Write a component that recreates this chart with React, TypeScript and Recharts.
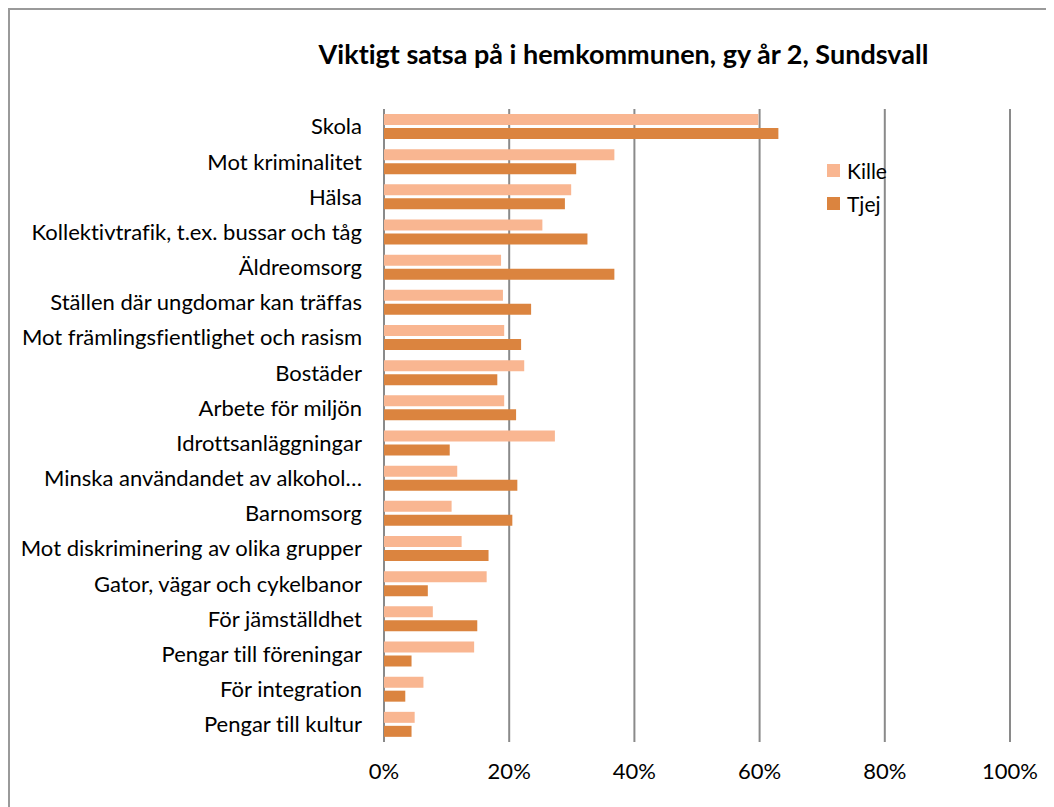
import React from 'react';
import { BarChart, Bar, XAxis, YAxis, CartesianGrid, Legend } from 'recharts';

const categories = [
  'Skola',
  'Mot kriminalitet',
  'Hälsa',
  'Kollektivtrafik, t.ex. bussar och tåg',
  'Äldreomsorg',
  'Ställen där ungdomar kan träffas',
  'Mot främlingsfientlighet och rasism',
  'Bostäder',
  'Arbete för miljön',
  'Idrottsanläggningar',
  'Minska användandet av alkohol…',
  'Barnomsorg',
  'Mot diskriminering av olika grupper',
  'Gator, vägar och cykelbanor',
  'För jämställdhet',
  'Pengar till föreningar',
  'För integration',
  'Pengar till kultur',
];

const kille = [59.8, 36.8, 29.9, 25.3, 18.7, 19.0, 19.2, 22.4, 19.2, 27.3, 11.7, 10.8, 12.4, 16.4, 7.8, 14.4, 6.3, 4.9];
const tjej = [63.0, 30.7, 28.9, 32.5, 36.8, 23.5, 21.9, 18.1, 21.1, 10.5, 21.3, 20.5, 16.7, 7.0, 14.9, 4.4, 3.4, 4.4];

const xTicks = [0, 0.2, 0.4, 0.6, 0.8, 1];

const title = 'Viktigt satsa på i hemkommunen, gy år 2, Sundsvall';

const data = categories.map((c, i) => ({ name: c, Kille: kille[i] / 100, Tjej: tjej[i] / 100 }));

const FONT = 'Lato, "Liberation Sans", Arial, sans-serif';
const KILLE = '#F9B691';
const TJEJ = '#DB843F';
const NOLIG: React.CSSProperties = { fontVariantLigatures: 'none', fontFeatureSettings: '"liga" 0, "clig" 0' };

const renderLegend = (props: any) => {
  const { payload } = props;
  return (
    <div style={{ fontFamily: FONT, fontSize: 21, color: '#000', width: 100 }}>
      {payload.map((p: any) => (
        <div key={p.value} style={{ display: 'flex', alignItems: 'center', height: 33 }}>
          <span style={{ display: 'inline-block', width: 13, height: 13, background: p.color, marginRight: 7 }} />
          <span>{p.value}</span>
        </div>
      ))}
    </div>
  );
};

export default function App() {
  return (
    <div style={{ width: 1046, height: 799, overflow: 'hidden', position: 'relative', ...NOLIG }}>
      <div
        style={{
          position: 'absolute',
          left: 0,
          top: 0,
          width: 1070,
          height: 820,
          borderLeft: '2px solid #9a9a9a',
          borderTop: '2px solid #9a9a9a',
          boxSizing: 'border-box',
          background: '#fff',
        }}
      />
      <div
        style={{
          position: 'absolute',
          left: 0,
          width: 1231,
          top: 29,
          textAlign: 'center',
          fontFamily: FONT,
          fontWeight: 'bold',
          fontSize: 27,
          color: '#000',
        }}
      >
        {title}
      </div>
      <div style={{ position: 'absolute', left: 0, top: 0 }}>
        <BarChart
          width={1044}
          height={798}
          data={data}
          layout="vertical"
          margin={{ top: 101, right: 42, bottom: 30, left: 10 }}
          barSize={11}
          barGap={3}
          style={NOLIG}
        >
          <CartesianGrid horizontal={false} vertical={true} stroke="#8a8a8a" strokeWidth={2} />
          <XAxis
            type="number"
            domain={[0, 1]}
            ticks={xTicks}
            tickFormatter={(v: number) => `${Math.round(v * 100)}%`}
            axisLine={false}
            tickLine={false}
            tickSize={0}
            tickMargin={21}
            height={34}
            tick={{ fill: '#000', fontSize: 22, fontFamily: FONT, style: NOLIG }}
            interval={0}
          />
          <YAxis
            type="category"
            dataKey="name"
            width={366}
            axisLine={false}
            tickLine={false}
            tickSize={0}
            tickMargin={22}
            interval={0}
            tick={{ fill: '#000', fontSize: 22, fontFamily: FONT, style: NOLIG }}
          />
          <Legend
            layout="horizontal"
            verticalAlign="bottom"
            align="left"
            content={renderLegend}
            wrapperStyle={{ position: 'absolute', left: 819, top: 146, width: 0, height: 0, overflow: 'visible' }}
          />
          <Bar dataKey="Kille" fill={KILLE} isAnimationActive={false} />
          <Bar dataKey="Tjej" fill={TJEJ} isAnimationActive={false} />
        </BarChart>
      </div>
    </div>
  );
}
